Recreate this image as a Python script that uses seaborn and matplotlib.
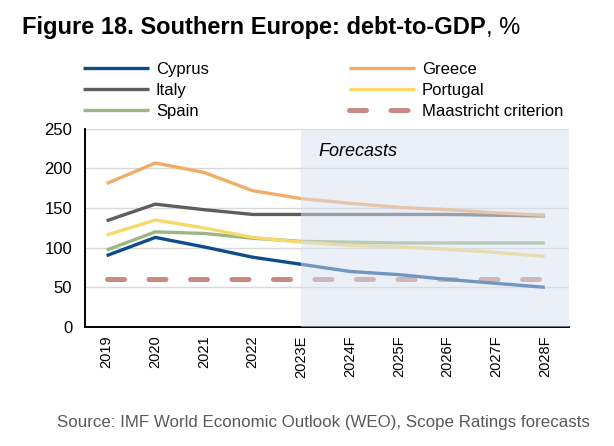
import numpy as np
import pandas as pd
import matplotlib.pyplot as plt
import seaborn as sns

years = ["2019", "2020", "2021", "2022", "2023E", "2024F", "2025F", "2026F", "2027F", "2028F"]
cyprus = [90, 113, 101, 88, 79, 70, 66, 60, 55, 50]
greece = [181, 207, 195, 172, 162, 156, 151, 148, 144, 141]
italy = [134, 155, 148, 142, 142, 142, 142, 142, 141, 140]
portugal = [116, 135, 125, 113, 107, 103, 101, 98, 94, 89]
spain = [97, 120, 118, 112, 108, 107, 106, 106, 106, 106]
maastricht = [60] * 10

colors = {
    "Cyprus": "#0f4c8a",
    "Greece": "#f2ac66",
    "Italy": "#5e5e5e",
    "Portugal": "#f8d96a",
    "Spain": "#9cb585",
    "Maastricht criterion": "#c98a86",
}

sns.set_theme(style="white")
plt.rcParams["font.family"] = ["Liberation Sans", "DejaVu Sans"]
plt.rcParams["text.color"] = "black"
plt.rcParams["xtick.color"] = "black"
plt.rcParams["ytick.color"] = "black"

fig = plt.figure(figsize=(6.14, 4.46), dpi=100)
ax = fig.add_axes([0.138, 0.267, 0.789, 0.444])

x = np.arange(len(years))
series = {"Cyprus": cyprus, "Italy": italy, "Spain": spain,
          "Greece": greece, "Portugal": portugal}
for name in ["Cyprus", "Italy", "Spain", "Greece", "Portugal"]:
    sns.lineplot(x=x, y=series[name], ax=ax, color=colors[name], lw=2.4,
                 label=name, solid_capstyle="butt", zorder=3)

sns.lineplot(x=x, y=maastricht, ax=ax, color=colors["Maastricht criterion"], lw=3.6,
             label="Maastricht criterion", zorder=2)
ax.lines[-1].set_dashes((3.4, 4.9))
ax.lines[-1].set_dash_capstyle("round")

# forecast shading washes the lines out
ax.axvspan(4, 9.5, color="#d6e0f2", alpha=0.5, lw=0, zorder=4)
ax.text(4.35, 222, "Forecasts", fontsize=13, style="italic", va="center", zorder=5)

ax.set_xlim(-0.45, 9.5)
ax.set_ylim(0, 250)
ax.set_yticks(range(0, 251, 50))
ax.set_xticks(x)
ax.set_xticklabels(years, rotation=90, fontsize=10.5)
ax.tick_params(axis="y", labelsize=12, length=0, pad=9)
ax.tick_params(axis="x", length=0, pad=6)
ax.yaxis.grid(True, color="#d9d9d9", lw=1)
ax.set_axisbelow(True)
for s in ["top", "right"]:
    ax.spines[s].set_visible(False)
for s in ["left", "bottom"]:
    ax.spines[s].set_color("black")
    ax.spines[s].set_linewidth(1.4)

handles, labels = ax.get_legend_handles_labels()
ax.get_legend().remove()
fig.legend(handles, labels, ncol=2, loc="upper left", bbox_to_anchor=(0.11, 0.895),
           frameon=False, fontsize=12, handlelength=4.0, columnspacing=8.4,
           labelspacing=0.37, handletextpad=0.4)

title = fig.text(0.036, 0.924, "Figure 18. Southern Europe: debt-to-GDP", fontsize=17,
                 fontweight="bold", va="baseline")
fig.canvas.draw()
bb = title.get_window_extent()
fig.text(bb.x1 / fig.bbox.width, 0.924, ", %", fontsize=17, va="baseline")

fig.text(0.093, 0.043, "Source: IMF World Economic Outlook (WEO), Scope Ratings forecasts",
         fontsize=12.2, color="#595959")

fig.savefig("out.png", dpi=100)
